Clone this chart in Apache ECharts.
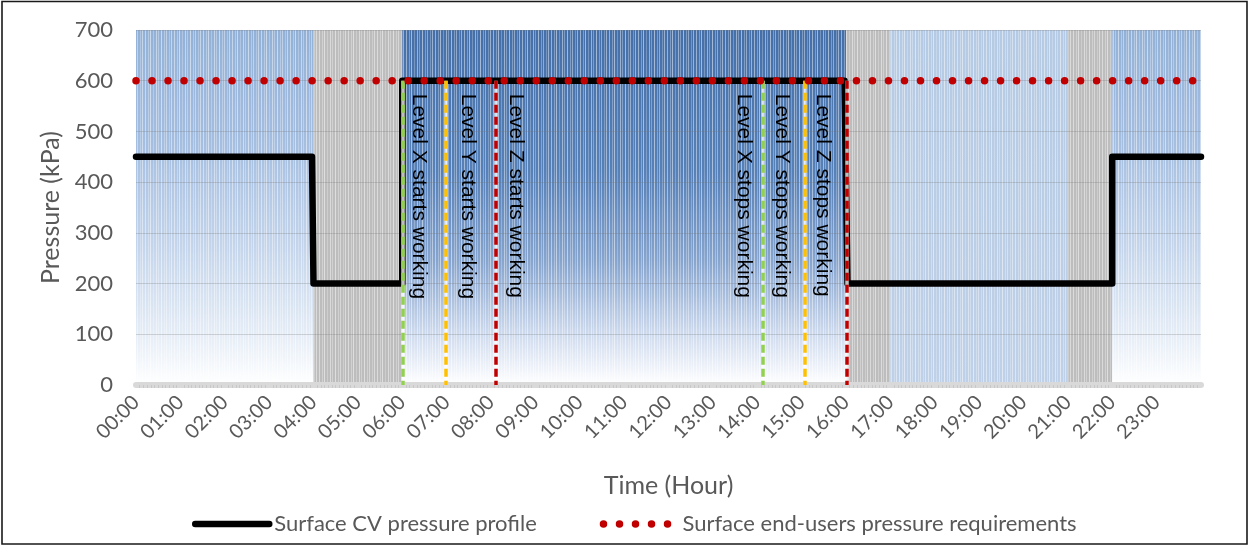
<!DOCTYPE html>
<html>
<head>
<meta charset="utf-8">
<script src="https://cdn.jsdelivr.net/npm/echarts@6/dist/echarts.min.js"></script>
<style>
html,body{margin:0;padding:0;background:#fff;}
#chart{width:1251px;height:546px;}
</style>
</head>
<body>
<div id="chart"></div>
<script>
// ---------- data ----------
const tickLabels = ['00:00','01:00','02:00','03:00','04:00','05:00','06:00','07:00','08:00','09:00','10:00','11:00',
  '12:00','13:00','14:00','15:00','16:00','17:00','18:00','19:00','20:00','21:00','22:00','23:00'];
const yTicks = [0, 100, 200, 300, 400, 500, 600, 700];

// background periods (minutes of the day)
const bandStartMin = [0, 240, 360, 960, 1020, 1260, 1320];
const bandEndMin   = [240, 360, 960, 1020, 1260, 1320, 1440];
const bandKind     = ['mid', 'grey', 'dark', 'grey', 'light', 'grey', 'mid'];

// Surface CV pressure profile (step)
const profileMin = [0, 238, 240, 360, 360, 958, 962, 1320, 1320, 1440];
const profileKPa = [450, 450, 200, 200, 600, 600, 200, 200, 450, 450];

// Surface end-users requirement
const reqMin = [0, 1440];
const reqKPa = [600, 600];

// level events
const eventMin    = [360, 419, 486, 847, 904, 961];
const eventLabels = ['Level X starts working', 'Level Y starts working', 'Level Z starts working',
                     'Level X stops working', 'Level Y stops working', 'Level Z stops working'];
const eventColors = ['#92d050', '#ffc000', '#c00000', '#92d050', '#ffc000', '#c00000'];
const eventSide   = ['right', 'right', 'right', 'left', 'left', 'left'];

const seriesNames = ['Surface CV pressure profile', 'Surface end-users pressure requirements'];

// ---------- styles ----------
const textGrey = '#595959';
const uiFont = 'Lato';
const LG = echarts.graphic.LinearGradient;
const bandFill = {
  mid:   () => new LG(0, 0, 0, 1, [{offset:0,color:'#93b1d7'},{offset:0.3,color:'#a3bde0'},{offset:0.6,color:'#c3d4eb'},{offset:0.85,color:'#e4ecf6'},{offset:1,color:'#ffffff'}]),
  dark:  () => new LG(0, 0, 0, 1, [{offset:0,color:'#446fa8'},{offset:0.4,color:'#5680b8'},{offset:0.65,color:'#86a4ce'},{offset:0.87,color:'#d3def0'},{offset:1,color:'#ffffff'}]),
  light: () => new LG(0, 0, 0, 1, [{offset:0,color:'#b5cae4'},{offset:1,color:'#bfd1e8'}]),
  grey:  () => '#bdbdbd'
};
function makeStripes() {
  const c = document.createElement('canvas');
  c.width = 29; c.height = 4;
  const ctx = c.getContext('2d');
  const cols = [[0,0.45],[3,0.3],[5,0.5],[8,0.25],[11,0.45],[13,0.3],[16,0.5],[19,0.3],[21,0.4],[24,0.25],[26,0.45]];
  cols.forEach(([x,a]) => { ctx.fillStyle = 'rgba(255,255,255,' + a + ')'; ctx.fillRect(x, 0, 1, 4); });
  return c;
}
const stripeCanvas = makeStripes();

const chart = echarts.init(document.getElementById('chart'), null, {renderer: 'canvas'});

const bandData = bandStartMin.map((s, i) => [s, bandEndMin[i], i]);

const eventMarks = [];
eventMin.forEach((m, i) => {
  const ls = {color: 'rgba(255,255,255,0.75)', type: 'solid', width: 3.5};
  eventMarks.push([
    {coord: [m, 600], lineStyle: ls, label: {show: false}},
    {coord: [m, 0], lineStyle: ls, label: {show: false}}
  ]);
});
eventMin.forEach((m, i) => {
  const right = eventSide[i] === 'right';
  const perp = [6, 11, 10, 8, 12, 13][i];
  const ls = {color: eventColors[i], type: [8, 4], width: 3.5};
  const lb = {show: true, formatter: eventLabels[i], position: right ? 'insideStartTop' : 'insideStartBottom',
             distance: [13, perp], fontFamily: 'Liberation Sans', fontSize: 21, color: '#000'};
  eventMarks.push([
    {coord: [m, 600], lineStyle: ls, label: lb},
    {coord: [m, 0], lineStyle: ls, label: lb}
  ]);
});

const option = {
  animation: false,
  backgroundColor: '#ffffff',
  grid: {left: 136, right: 50, top: 30, bottom: 161, containLabel: false},
  xAxis: {
    type: 'value', min: 0, max: 1440, interval: 60, z: 1,
    name: 'Time (Hour)', nameLocation: 'middle', nameGap: 88,
    nameTextStyle: {fontFamily: uiFont, fontSize: 25, color: textGrey},
    axisLine: {show: true, lineStyle: {color: '#d9d9d9', width: 6}},
    axisTick: {show: false},
    minorTick: {show: true, splitNumber: 12, length: 3, lineStyle: {color: '#c8c8c8', width: 1}},
    splitLine: {show: false},
    axisLabel: {
      rotate: 45, margin: 14, fontFamily: uiFont, fontSize: 20, color: textGrey,
      showMaxLabel: false,
      formatter: v => (v < 1440 ? tickLabels[Math.round(v / 60)] : '')
    }
  },
  yAxis: {
    type: 'value', min: 0, max: 700, interval: 100, z: 1,
    name: 'Pressure (kPa)', nameLocation: 'middle', nameGap: 68, nameRotate: 90,
    nameTextStyle: {fontFamily: uiFont, fontSize: 25, color: textGrey},
    axisLine: {show: false}, axisTick: {show: false},
    splitLine: {show: true, lineStyle: {color: 'rgba(120,120,120,0.28)', width: 1}},
    axisLabel: {margin: 23, fontFamily: uiFont, fontSize: 22, color: textGrey,
      formatter: v => String(yTicks[Math.round(v / 100)])}
  },
  legend: {
    left: 187, top: 508, itemWidth: 74, itemHeight: 9, itemGap: 63,
    data: seriesNames,
    textStyle: {fontFamily: uiFont, fontSize: 22, color: textGrey},
    itemStyle: {opacity: 0},
    lineStyle: {width: 'inherit', type: 'inherit', cap: 'inherit'}
  },
  series: [
    {
      type: 'custom', z: 0, silent: true,
      data: bandData,
      encode: {x: [0, 1]},
      clip: true,
      renderItem: (params, api) => {
        const s = api.value(0), e = api.value(1), idx = api.value(2);
        const p0 = api.coord([s, 700]);
        const p1 = api.coord([e, 0]);
        const shape = {x: p0[0], y: p0[1], width: p1[0] - p0[0], height: p1[1] - p0[1]};
        return {
          type: 'group',
          children: [
            {type: 'rect', shape: shape, style: {fill: bandFill[bandKind[idx]]()}},
            {type: 'rect', shape: shape, style: {fill: {image: stripeCanvas, repeat: 'repeat'}}}
          ]
        };
      }
    },
    {
      name: seriesNames[0], type: 'line', z: 3,
      data: profileMin.map((m, i) => [m, profileKPa[i]]),
      symbol: 'none', showSymbol: false,
      lineStyle: {color: '#000000', width: 6.5, join: 'round', cap: 'round'},
      itemStyle: {color: '#000000'}
    },
    {
      type: 'line', z: 4, data: [], silent: true,
      markLine: {silent: true, symbol: ['none', 'none'], animation: false,
        lineStyle: {width: 3.5}, data: eventMarks}
    },
    {
      name: seriesNames[1], type: 'line', z: 5,
      data: reqMin.map((m, i) => [m, reqKPa[i]]),
      symbol: 'none', showSymbol: false,
      lineStyle: {color: '#c00000', width: 7.5, type: [0.01, 16], cap: 'round'},
      itemStyle: {color: '#c00000'}
    }
  ],
  graphic: [{
    type: 'rect', silent: true, z: 100,
    shape: {x: 2, y: 1.5, width: 1245, height: 542.5},
    style: {fill: null, stroke: '#1a1a1a', lineWidth: 1.6}
  }]
};
chart.setOption(option);
</script>
</body>
</html>
